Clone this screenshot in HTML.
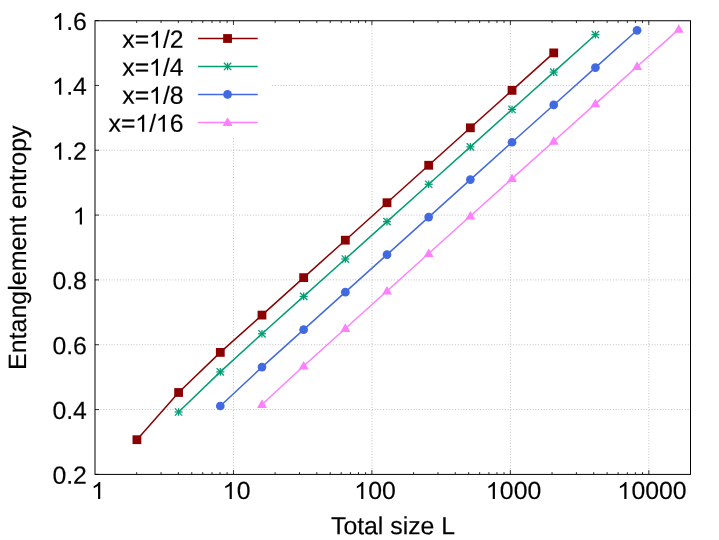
<!DOCTYPE html>
<html><head><meta charset="utf-8"><style>
html,body{margin:0;padding:0;background:#fff;}
svg{display:block;will-change:transform;opacity:0.999}
text{font-family:"Liberation Sans",sans-serif;font-size:24.8px;fill:#000;stroke:#000;stroke-width:0.15px}
</style></head><body>
<svg width="719" height="540" viewBox="0 0 719 540">
<rect width="719" height="540" fill="#fff"/>
<line x1="95.0" y1="409.57" x2="690.5" y2="409.57" stroke="#b8b8b8" stroke-width="1" stroke-dasharray="0.85,1.92" fill="none"/>
<line x1="95.0" y1="344.74" x2="690.5" y2="344.74" stroke="#b8b8b8" stroke-width="1" stroke-dasharray="0.85,1.92" fill="none"/>
<line x1="95.0" y1="279.91" x2="690.5" y2="279.91" stroke="#b8b8b8" stroke-width="1" stroke-dasharray="0.85,1.92" fill="none"/>
<line x1="95.0" y1="215.09" x2="690.5" y2="215.09" stroke="#b8b8b8" stroke-width="1" stroke-dasharray="0.85,1.92" fill="none"/>
<line x1="95.0" y1="150.26" x2="690.5" y2="150.26" stroke="#b8b8b8" stroke-width="1" stroke-dasharray="0.85,1.92" fill="none"/>
<line x1="95.0" y1="85.43" x2="690.5" y2="85.43" stroke="#b8b8b8" stroke-width="1" stroke-dasharray="0.85,1.92" fill="none"/>
<line x1="233.46" y1="474.4" x2="233.46" y2="20.75" stroke="#b8b8b8" stroke-width="1" stroke-dasharray="0.85,1.92" fill="none"/>
<line x1="371.91" y1="474.4" x2="371.91" y2="20.75" stroke="#b8b8b8" stroke-width="1" stroke-dasharray="0.85,1.92" fill="none"/>
<line x1="510.37" y1="474.4" x2="510.37" y2="20.75" stroke="#b8b8b8" stroke-width="1" stroke-dasharray="0.85,1.92" fill="none"/>
<line x1="648.82" y1="474.4" x2="648.82" y2="20.75" stroke="#b8b8b8" stroke-width="1" stroke-dasharray="0.85,1.92" fill="none"/>
<rect x="96.0" y="21.75" width="174.5" height="116.2" fill="#fff"/>
<line x1="95.0" y1="474.40" x2="99.0" y2="474.40" stroke="#1a1a1a" stroke-width="0.9"/>
<text transform="translate(52.42,483.83) rotate(0.03)" text-anchor="start">0</text><text transform="translate(66.22,483.83) rotate(0.03)" text-anchor="start">.</text><text transform="translate(73.11,483.83) rotate(0.03)" text-anchor="start">2</text>
<line x1="95.0" y1="409.57" x2="99.0" y2="409.57" stroke="#1a1a1a" stroke-width="0.9"/>
<text transform="translate(52.42,419.00) rotate(0.03)" text-anchor="start">0</text><text transform="translate(66.22,419.00) rotate(0.03)" text-anchor="start">.</text><text transform="translate(73.11,419.00) rotate(0.03)" text-anchor="start">4</text>
<line x1="95.0" y1="344.74" x2="99.0" y2="344.74" stroke="#1a1a1a" stroke-width="0.9"/>
<text transform="translate(52.42,354.17) rotate(0.03)" text-anchor="start">0</text><text transform="translate(66.22,354.17) rotate(0.03)" text-anchor="start">.</text><text transform="translate(73.11,354.17) rotate(0.03)" text-anchor="start">6</text>
<line x1="95.0" y1="279.91" x2="99.0" y2="279.91" stroke="#1a1a1a" stroke-width="0.9"/>
<text transform="translate(52.42,289.34) rotate(0.03)" text-anchor="start">0</text><text transform="translate(66.22,289.34) rotate(0.03)" text-anchor="start">.</text><text transform="translate(73.11,289.34) rotate(0.03)" text-anchor="start">8</text>
<line x1="95.0" y1="215.09" x2="99.0" y2="215.09" stroke="#1a1a1a" stroke-width="0.9"/>
<path transform="translate(72.71,224.51) scale(0.012109,-0.011625)" d="M763 0H583V1147Q518 1085 412.5 1023T223 930V1104Q374 1175 487 1276T647 1472H763Z" fill="#000"/>
<line x1="95.0" y1="150.26" x2="99.0" y2="150.26" stroke="#1a1a1a" stroke-width="0.9"/>
<path transform="translate(52.02,159.69) scale(0.012109,-0.011625)" d="M763 0H583V1147Q518 1085 412.5 1023T223 930V1104Q374 1175 487 1276T647 1472H763Z" fill="#000"/><text transform="translate(66.22,159.69) rotate(0.03)" text-anchor="start">.</text><text transform="translate(73.11,159.69) rotate(0.03)" text-anchor="start">2</text>
<line x1="95.0" y1="85.43" x2="99.0" y2="85.43" stroke="#1a1a1a" stroke-width="0.9"/>
<path transform="translate(52.02,94.86) scale(0.012109,-0.011625)" d="M763 0H583V1147Q518 1085 412.5 1023T223 930V1104Q374 1175 487 1276T647 1472H763Z" fill="#000"/><text transform="translate(66.22,94.86) rotate(0.03)" text-anchor="start">.</text><text transform="translate(73.11,94.86) rotate(0.03)" text-anchor="start">4</text>
<line x1="95.0" y1="20.60" x2="99.0" y2="20.60" stroke="#1a1a1a" stroke-width="0.9"/>
<path transform="translate(52.02,30.03) scale(0.012109,-0.011625)" d="M763 0H583V1147Q518 1085 412.5 1023T223 930V1104Q374 1175 487 1276T647 1472H763Z" fill="#000"/><text transform="translate(66.22,30.03) rotate(0.03)" text-anchor="start">.</text><text transform="translate(73.11,30.03) rotate(0.03)" text-anchor="start">6</text>
<line x1="136.68" y1="474.4" x2="136.68" y2="472.09999999999997" stroke="#1a1a1a" stroke-width="0.9"/>
<line x1="136.68" y1="20.75" x2="136.68" y2="23.05" stroke="#1a1a1a" stroke-width="0.9"/>
<line x1="161.06" y1="474.4" x2="161.06" y2="472.09999999999997" stroke="#1a1a1a" stroke-width="0.9"/>
<line x1="161.06" y1="20.75" x2="161.06" y2="23.05" stroke="#1a1a1a" stroke-width="0.9"/>
<line x1="178.36" y1="474.4" x2="178.36" y2="472.09999999999997" stroke="#1a1a1a" stroke-width="0.9"/>
<line x1="178.36" y1="20.75" x2="178.36" y2="23.05" stroke="#1a1a1a" stroke-width="0.9"/>
<line x1="191.78" y1="474.4" x2="191.78" y2="472.09999999999997" stroke="#1a1a1a" stroke-width="0.9"/>
<line x1="191.78" y1="20.75" x2="191.78" y2="23.05" stroke="#1a1a1a" stroke-width="0.9"/>
<line x1="202.74" y1="474.4" x2="202.74" y2="472.09999999999997" stroke="#1a1a1a" stroke-width="0.9"/>
<line x1="202.74" y1="20.75" x2="202.74" y2="23.05" stroke="#1a1a1a" stroke-width="0.9"/>
<line x1="212.01" y1="474.4" x2="212.01" y2="472.09999999999997" stroke="#1a1a1a" stroke-width="0.9"/>
<line x1="212.01" y1="20.75" x2="212.01" y2="23.05" stroke="#1a1a1a" stroke-width="0.9"/>
<line x1="220.04" y1="474.4" x2="220.04" y2="472.09999999999997" stroke="#1a1a1a" stroke-width="0.9"/>
<line x1="220.04" y1="20.75" x2="220.04" y2="23.05" stroke="#1a1a1a" stroke-width="0.9"/>
<line x1="227.12" y1="474.4" x2="227.12" y2="472.09999999999997" stroke="#1a1a1a" stroke-width="0.9"/>
<line x1="227.12" y1="20.75" x2="227.12" y2="23.05" stroke="#1a1a1a" stroke-width="0.9"/>
<path transform="translate(91.00,499.00) scale(0.012109,-0.011625)" d="M763 0H583V1147Q518 1085 412.5 1023T223 930V1104Q374 1175 487 1276T647 1472H763Z" fill="#000"/>
<line x1="233.46" y1="474.4" x2="233.46" y2="470.2" stroke="#1a1a1a" stroke-width="0.9"/>
<line x1="233.46" y1="20.75" x2="233.46" y2="24.95" stroke="#1a1a1a" stroke-width="0.9"/>
<line x1="275.13" y1="474.4" x2="275.13" y2="472.09999999999997" stroke="#1a1a1a" stroke-width="0.9"/>
<line x1="275.13" y1="20.75" x2="275.13" y2="23.05" stroke="#1a1a1a" stroke-width="0.9"/>
<line x1="299.52" y1="474.4" x2="299.52" y2="472.09999999999997" stroke="#1a1a1a" stroke-width="0.9"/>
<line x1="299.52" y1="20.75" x2="299.52" y2="23.05" stroke="#1a1a1a" stroke-width="0.9"/>
<line x1="316.81" y1="474.4" x2="316.81" y2="472.09999999999997" stroke="#1a1a1a" stroke-width="0.9"/>
<line x1="316.81" y1="20.75" x2="316.81" y2="23.05" stroke="#1a1a1a" stroke-width="0.9"/>
<line x1="330.23" y1="474.4" x2="330.23" y2="472.09999999999997" stroke="#1a1a1a" stroke-width="0.9"/>
<line x1="330.23" y1="20.75" x2="330.23" y2="23.05" stroke="#1a1a1a" stroke-width="0.9"/>
<line x1="341.19" y1="474.4" x2="341.19" y2="472.09999999999997" stroke="#1a1a1a" stroke-width="0.9"/>
<line x1="341.19" y1="20.75" x2="341.19" y2="23.05" stroke="#1a1a1a" stroke-width="0.9"/>
<line x1="350.46" y1="474.4" x2="350.46" y2="472.09999999999997" stroke="#1a1a1a" stroke-width="0.9"/>
<line x1="350.46" y1="20.75" x2="350.46" y2="23.05" stroke="#1a1a1a" stroke-width="0.9"/>
<line x1="358.49" y1="474.4" x2="358.49" y2="472.09999999999997" stroke="#1a1a1a" stroke-width="0.9"/>
<line x1="358.49" y1="20.75" x2="358.49" y2="23.05" stroke="#1a1a1a" stroke-width="0.9"/>
<line x1="365.58" y1="474.4" x2="365.58" y2="472.09999999999997" stroke="#1a1a1a" stroke-width="0.9"/>
<line x1="365.58" y1="20.75" x2="365.58" y2="23.05" stroke="#1a1a1a" stroke-width="0.9"/>
<path transform="translate(222.56,499.00) scale(0.012109,-0.011625)" d="M763 0H583V1147Q518 1085 412.5 1023T223 930V1104Q374 1175 487 1276T647 1472H763Z" fill="#000"/><text transform="translate(236.76,499.00) rotate(0.03)" text-anchor="start">0</text>
<line x1="371.91" y1="474.4" x2="371.91" y2="470.2" stroke="#1a1a1a" stroke-width="0.9"/>
<line x1="371.91" y1="20.75" x2="371.91" y2="24.95" stroke="#1a1a1a" stroke-width="0.9"/>
<line x1="413.59" y1="474.4" x2="413.59" y2="472.09999999999997" stroke="#1a1a1a" stroke-width="0.9"/>
<line x1="413.59" y1="20.75" x2="413.59" y2="23.05" stroke="#1a1a1a" stroke-width="0.9"/>
<line x1="437.97" y1="474.4" x2="437.97" y2="472.09999999999997" stroke="#1a1a1a" stroke-width="0.9"/>
<line x1="437.97" y1="20.75" x2="437.97" y2="23.05" stroke="#1a1a1a" stroke-width="0.9"/>
<line x1="455.27" y1="474.4" x2="455.27" y2="472.09999999999997" stroke="#1a1a1a" stroke-width="0.9"/>
<line x1="455.27" y1="20.75" x2="455.27" y2="23.05" stroke="#1a1a1a" stroke-width="0.9"/>
<line x1="468.69" y1="474.4" x2="468.69" y2="472.09999999999997" stroke="#1a1a1a" stroke-width="0.9"/>
<line x1="468.69" y1="20.75" x2="468.69" y2="23.05" stroke="#1a1a1a" stroke-width="0.9"/>
<line x1="479.65" y1="474.4" x2="479.65" y2="472.09999999999997" stroke="#1a1a1a" stroke-width="0.9"/>
<line x1="479.65" y1="20.75" x2="479.65" y2="23.05" stroke="#1a1a1a" stroke-width="0.9"/>
<line x1="488.92" y1="474.4" x2="488.92" y2="472.09999999999997" stroke="#1a1a1a" stroke-width="0.9"/>
<line x1="488.92" y1="20.75" x2="488.92" y2="23.05" stroke="#1a1a1a" stroke-width="0.9"/>
<line x1="496.95" y1="474.4" x2="496.95" y2="472.09999999999997" stroke="#1a1a1a" stroke-width="0.9"/>
<line x1="496.95" y1="20.75" x2="496.95" y2="23.05" stroke="#1a1a1a" stroke-width="0.9"/>
<line x1="504.03" y1="474.4" x2="504.03" y2="472.09999999999997" stroke="#1a1a1a" stroke-width="0.9"/>
<line x1="504.03" y1="20.75" x2="504.03" y2="23.05" stroke="#1a1a1a" stroke-width="0.9"/>
<path transform="translate(354.12,499.00) scale(0.012109,-0.011625)" d="M763 0H583V1147Q518 1085 412.5 1023T223 930V1104Q374 1175 487 1276T647 1472H763Z" fill="#000"/><text transform="translate(368.31,499.00) rotate(0.03)" text-anchor="start">0</text><text transform="translate(382.11,499.00) rotate(0.03)" text-anchor="start">0</text>
<line x1="510.37" y1="474.4" x2="510.37" y2="470.2" stroke="#1a1a1a" stroke-width="0.9"/>
<line x1="510.37" y1="20.75" x2="510.37" y2="24.95" stroke="#1a1a1a" stroke-width="0.9"/>
<line x1="552.04" y1="474.4" x2="552.04" y2="472.09999999999997" stroke="#1a1a1a" stroke-width="0.9"/>
<line x1="552.04" y1="20.75" x2="552.04" y2="23.05" stroke="#1a1a1a" stroke-width="0.9"/>
<line x1="576.43" y1="474.4" x2="576.43" y2="472.09999999999997" stroke="#1a1a1a" stroke-width="0.9"/>
<line x1="576.43" y1="20.75" x2="576.43" y2="23.05" stroke="#1a1a1a" stroke-width="0.9"/>
<line x1="593.72" y1="474.4" x2="593.72" y2="472.09999999999997" stroke="#1a1a1a" stroke-width="0.9"/>
<line x1="593.72" y1="20.75" x2="593.72" y2="23.05" stroke="#1a1a1a" stroke-width="0.9"/>
<line x1="607.14" y1="474.4" x2="607.14" y2="472.09999999999997" stroke="#1a1a1a" stroke-width="0.9"/>
<line x1="607.14" y1="20.75" x2="607.14" y2="23.05" stroke="#1a1a1a" stroke-width="0.9"/>
<line x1="618.10" y1="474.4" x2="618.10" y2="472.09999999999997" stroke="#1a1a1a" stroke-width="0.9"/>
<line x1="618.10" y1="20.75" x2="618.10" y2="23.05" stroke="#1a1a1a" stroke-width="0.9"/>
<line x1="627.37" y1="474.4" x2="627.37" y2="472.09999999999997" stroke="#1a1a1a" stroke-width="0.9"/>
<line x1="627.37" y1="20.75" x2="627.37" y2="23.05" stroke="#1a1a1a" stroke-width="0.9"/>
<line x1="635.40" y1="474.4" x2="635.40" y2="472.09999999999997" stroke="#1a1a1a" stroke-width="0.9"/>
<line x1="635.40" y1="20.75" x2="635.40" y2="23.05" stroke="#1a1a1a" stroke-width="0.9"/>
<line x1="642.49" y1="474.4" x2="642.49" y2="472.09999999999997" stroke="#1a1a1a" stroke-width="0.9"/>
<line x1="642.49" y1="20.75" x2="642.49" y2="23.05" stroke="#1a1a1a" stroke-width="0.9"/>
<path transform="translate(485.68,499.00) scale(0.012109,-0.011625)" d="M763 0H583V1147Q518 1085 412.5 1023T223 930V1104Q374 1175 487 1276T647 1472H763Z" fill="#000"/><text transform="translate(499.87,499.00) rotate(0.03)" text-anchor="start">0</text><text transform="translate(513.67,499.00) rotate(0.03)" text-anchor="start">0</text><text transform="translate(527.46,499.00) rotate(0.03)" text-anchor="start">0</text>
<line x1="648.82" y1="474.4" x2="648.82" y2="470.2" stroke="#1a1a1a" stroke-width="0.9"/>
<line x1="648.82" y1="20.75" x2="648.82" y2="24.95" stroke="#1a1a1a" stroke-width="0.9"/>
<path transform="translate(617.24,499.00) scale(0.012109,-0.011625)" d="M763 0H583V1147Q518 1085 412.5 1023T223 930V1104Q374 1175 487 1276T647 1472H763Z" fill="#000"/><text transform="translate(631.43,499.00) rotate(0.03)" text-anchor="start">0</text><text transform="translate(645.22,499.00) rotate(0.03)" text-anchor="start">0</text><text transform="translate(659.02,499.00) rotate(0.03)" text-anchor="start">0</text><text transform="translate(672.81,499.00) rotate(0.03)" text-anchor="start">0</text>
<rect x="95.0" y="20.75" width="595.5" height="453.65" fill="none" stroke="#000" stroke-width="1"/>
<text transform="translate(393.00,534.20) rotate(0.03) scale(1,1.0)" text-anchor="middle">Total size L</text>
<text transform="translate(26.00,247.75) rotate(-89.97) scale(1,1.0)" text-anchor="middle" style="font-size:25px">Entanglement entropy</text>
<polyline points="136.93,439.70 178.61,392.50 220.29,352.40 261.97,315.10 303.65,277.64 345.33,240.19 387.00,202.73 428.68,165.27 470.36,127.81 512.04,90.36 553.72,52.90" fill="none" stroke="#8b0000" stroke-width="1.5" stroke-linejoin="round"/>
<rect x="132.53" y="435.30" width="8.8" height="8.8" fill="#8b0000"/>
<rect x="174.21" y="388.10" width="8.8" height="8.8" fill="#8b0000"/>
<rect x="215.89" y="348.00" width="8.8" height="8.8" fill="#8b0000"/>
<rect x="257.57" y="310.70" width="8.8" height="8.8" fill="#8b0000"/>
<rect x="299.25" y="273.24" width="8.8" height="8.8" fill="#8b0000"/>
<rect x="340.93" y="235.79" width="8.8" height="8.8" fill="#8b0000"/>
<rect x="382.60" y="198.33" width="8.8" height="8.8" fill="#8b0000"/>
<rect x="424.28" y="160.87" width="8.8" height="8.8" fill="#8b0000"/>
<rect x="465.96" y="123.41" width="8.8" height="8.8" fill="#8b0000"/>
<rect x="507.64" y="85.96" width="8.8" height="8.8" fill="#8b0000"/>
<rect x="549.32" y="48.50" width="8.8" height="8.8" fill="#8b0000"/>
<text transform="translate(122.29,47.83) rotate(0.03)" text-anchor="start">x</text><text transform="translate(134.69,47.83) rotate(0.03)" text-anchor="start">=</text><path transform="translate(148.77,47.83) scale(0.012109,-0.011625)" d="M763 0H583V1147Q518 1085 412.5 1023T223 930V1104Q374 1175 487 1276T647 1472H763Z" fill="#000"/><text transform="translate(162.97,47.83) rotate(0.03)" text-anchor="start">/</text><text transform="translate(169.86,47.83) rotate(0.03)" text-anchor="start">2</text>
<line x1="198.1" y1="38.50" x2="257.7" y2="38.50" stroke="#8b0000" stroke-width="1.5"/>
<rect x="223.15" y="34.10" width="8.8" height="8.8" fill="#8b0000"/>
<polyline points="178.61,412.00 220.29,371.90 261.97,333.80 303.65,296.41 345.33,259.02 387.00,221.64 428.68,184.25 470.36,146.86 512.04,109.47 553.72,72.09 595.40,34.70" fill="none" stroke="#009e73" stroke-width="1.5" stroke-linejoin="round"/>
<g stroke="#009e73" stroke-width="1.3" fill="none"><line x1="174.61" y1="412.00" x2="182.61" y2="412.00"/><line x1="178.61" y1="408.20" x2="178.61" y2="415.80"/><line x1="174.96" y1="408.35" x2="182.26" y2="415.65"/><line x1="174.96" y1="415.65" x2="182.26" y2="408.35"/></g>
<g stroke="#009e73" stroke-width="1.3" fill="none"><line x1="216.29" y1="371.90" x2="224.29" y2="371.90"/><line x1="220.29" y1="368.10" x2="220.29" y2="375.70"/><line x1="216.64" y1="368.25" x2="223.94" y2="375.55"/><line x1="216.64" y1="375.55" x2="223.94" y2="368.25"/></g>
<g stroke="#009e73" stroke-width="1.3" fill="none"><line x1="257.97" y1="333.80" x2="265.97" y2="333.80"/><line x1="261.97" y1="330.00" x2="261.97" y2="337.60"/><line x1="258.32" y1="330.15" x2="265.62" y2="337.45"/><line x1="258.32" y1="337.45" x2="265.62" y2="330.15"/></g>
<g stroke="#009e73" stroke-width="1.3" fill="none"><line x1="299.65" y1="296.41" x2="307.65" y2="296.41"/><line x1="303.65" y1="292.61" x2="303.65" y2="300.21"/><line x1="300.00" y1="292.76" x2="307.30" y2="300.06"/><line x1="300.00" y1="300.06" x2="307.30" y2="292.76"/></g>
<g stroke="#009e73" stroke-width="1.3" fill="none"><line x1="341.33" y1="259.02" x2="349.33" y2="259.02"/><line x1="345.33" y1="255.22" x2="345.33" y2="262.82"/><line x1="341.68" y1="255.37" x2="348.98" y2="262.67"/><line x1="341.68" y1="262.67" x2="348.98" y2="255.37"/></g>
<g stroke="#009e73" stroke-width="1.3" fill="none"><line x1="383.00" y1="221.64" x2="391.00" y2="221.64"/><line x1="387.00" y1="217.84" x2="387.00" y2="225.44"/><line x1="383.35" y1="217.99" x2="390.65" y2="225.29"/><line x1="383.35" y1="225.29" x2="390.65" y2="217.99"/></g>
<g stroke="#009e73" stroke-width="1.3" fill="none"><line x1="424.68" y1="184.25" x2="432.68" y2="184.25"/><line x1="428.68" y1="180.45" x2="428.68" y2="188.05"/><line x1="425.03" y1="180.60" x2="432.33" y2="187.90"/><line x1="425.03" y1="187.90" x2="432.33" y2="180.60"/></g>
<g stroke="#009e73" stroke-width="1.3" fill="none"><line x1="466.36" y1="146.86" x2="474.36" y2="146.86"/><line x1="470.36" y1="143.06" x2="470.36" y2="150.66"/><line x1="466.71" y1="143.21" x2="474.01" y2="150.51"/><line x1="466.71" y1="150.51" x2="474.01" y2="143.21"/></g>
<g stroke="#009e73" stroke-width="1.3" fill="none"><line x1="508.04" y1="109.47" x2="516.04" y2="109.47"/><line x1="512.04" y1="105.67" x2="512.04" y2="113.27"/><line x1="508.39" y1="105.82" x2="515.69" y2="113.12"/><line x1="508.39" y1="113.12" x2="515.69" y2="105.82"/></g>
<g stroke="#009e73" stroke-width="1.3" fill="none"><line x1="549.72" y1="72.09" x2="557.72" y2="72.09"/><line x1="553.72" y1="68.29" x2="553.72" y2="75.89"/><line x1="550.07" y1="68.44" x2="557.37" y2="75.74"/><line x1="550.07" y1="75.74" x2="557.37" y2="68.44"/></g>
<g stroke="#009e73" stroke-width="1.3" fill="none"><line x1="591.40" y1="34.70" x2="599.40" y2="34.70"/><line x1="595.40" y1="30.90" x2="595.40" y2="38.50"/><line x1="591.75" y1="31.05" x2="599.05" y2="38.35"/><line x1="591.75" y1="38.35" x2="599.05" y2="31.05"/></g>
<text transform="translate(122.29,75.80) rotate(0.03)" text-anchor="start">x</text><text transform="translate(134.69,75.80) rotate(0.03)" text-anchor="start">=</text><path transform="translate(148.77,75.80) scale(0.012109,-0.011625)" d="M763 0H583V1147Q518 1085 412.5 1023T223 930V1104Q374 1175 487 1276T647 1472H763Z" fill="#000"/><text transform="translate(162.97,75.80) rotate(0.03)" text-anchor="start">/</text><text transform="translate(169.86,75.80) rotate(0.03)" text-anchor="start">4</text>
<line x1="198.1" y1="66.47" x2="257.7" y2="66.47" stroke="#009e73" stroke-width="1.5"/>
<g stroke="#009e73" stroke-width="1.3" fill="none"><line x1="223.55" y1="66.47" x2="231.55" y2="66.47"/><line x1="227.55" y1="62.67" x2="227.55" y2="70.27"/><line x1="223.90" y1="62.82" x2="231.20" y2="70.12"/><line x1="223.90" y1="70.12" x2="231.20" y2="62.82"/></g>
<polyline points="220.29,406.00 261.97,367.10 303.65,329.68 345.33,292.16 387.00,254.63 428.68,217.11 470.36,179.59 512.04,142.27 553.72,104.94 595.40,67.62 637.08,30.30" fill="none" stroke="#4169e1" stroke-width="1.5" stroke-linejoin="round"/>
<circle cx="220.29" cy="406.00" r="4.35" fill="#4169e1"/>
<circle cx="261.97" cy="367.10" r="4.35" fill="#4169e1"/>
<circle cx="303.65" cy="329.68" r="4.35" fill="#4169e1"/>
<circle cx="345.33" cy="292.16" r="4.35" fill="#4169e1"/>
<circle cx="387.00" cy="254.63" r="4.35" fill="#4169e1"/>
<circle cx="428.68" cy="217.11" r="4.35" fill="#4169e1"/>
<circle cx="470.36" cy="179.59" r="4.35" fill="#4169e1"/>
<circle cx="512.04" cy="142.27" r="4.35" fill="#4169e1"/>
<circle cx="553.72" cy="104.94" r="4.35" fill="#4169e1"/>
<circle cx="595.40" cy="67.62" r="4.35" fill="#4169e1"/>
<circle cx="637.08" cy="30.30" r="4.35" fill="#4169e1"/>
<text transform="translate(122.29,103.77) rotate(0.03)" text-anchor="start">x</text><text transform="translate(134.69,103.77) rotate(0.03)" text-anchor="start">=</text><path transform="translate(148.77,103.77) scale(0.012109,-0.011625)" d="M763 0H583V1147Q518 1085 412.5 1023T223 930V1104Q374 1175 487 1276T647 1472H763Z" fill="#000"/><text transform="translate(162.97,103.77) rotate(0.03)" text-anchor="start">/</text><text transform="translate(169.86,103.77) rotate(0.03)" text-anchor="start">8</text>
<line x1="198.1" y1="94.44" x2="257.7" y2="94.44" stroke="#4169e1" stroke-width="1.5"/>
<circle cx="227.55" cy="94.44" r="4.35" fill="#4169e1"/>
<polyline points="261.97,404.50 303.65,366.05 345.33,328.50 387.00,291.05 428.68,253.55 470.36,216.05 512.04,178.60 553.72,141.20 595.40,103.85 637.08,66.50 678.76,29.35" fill="none" stroke="#ff80ff" stroke-width="1.5" stroke-linejoin="round"/>
<polygon points="261.97,399.35 256.97,408.00 266.97,408.00" fill="#ff80ff"/>
<polygon points="303.65,360.90 298.65,369.55 308.65,369.55" fill="#ff80ff"/>
<polygon points="345.33,323.35 340.33,332.00 350.33,332.00" fill="#ff80ff"/>
<polygon points="387.00,285.90 382.00,294.55 392.00,294.55" fill="#ff80ff"/>
<polygon points="428.68,248.40 423.68,257.05 433.68,257.05" fill="#ff80ff"/>
<polygon points="470.36,210.90 465.36,219.55 475.36,219.55" fill="#ff80ff"/>
<polygon points="512.04,173.45 507.04,182.10 517.04,182.10" fill="#ff80ff"/>
<polygon points="553.72,136.05 548.72,144.70 558.72,144.70" fill="#ff80ff"/>
<polygon points="595.40,98.70 590.40,107.35 600.40,107.35" fill="#ff80ff"/>
<polygon points="637.08,61.35 632.08,70.00 642.08,70.00" fill="#ff80ff"/>
<polygon points="678.76,24.20 673.76,32.85 683.76,32.85" fill="#ff80ff"/>
<text transform="translate(108.50,131.74) rotate(0.03)" text-anchor="start">x</text><text transform="translate(120.90,131.74) rotate(0.03)" text-anchor="start">=</text><path transform="translate(134.98,131.74) scale(0.012109,-0.011625)" d="M763 0H583V1147Q518 1085 412.5 1023T223 930V1104Q374 1175 487 1276T647 1472H763Z" fill="#000"/><text transform="translate(149.17,131.74) rotate(0.03)" text-anchor="start">/</text><path transform="translate(155.66,131.74) scale(0.012109,-0.011625)" d="M763 0H583V1147Q518 1085 412.5 1023T223 930V1104Q374 1175 487 1276T647 1472H763Z" fill="#000"/><text transform="translate(169.86,131.74) rotate(0.03)" text-anchor="start">6</text>
<line x1="198.1" y1="122.41" x2="257.7" y2="122.41" stroke="#ff80ff" stroke-width="1.5"/>
<polygon points="227.55,117.26 222.55,125.91 232.55,125.91" fill="#ff80ff"/>
</svg></body></html>
